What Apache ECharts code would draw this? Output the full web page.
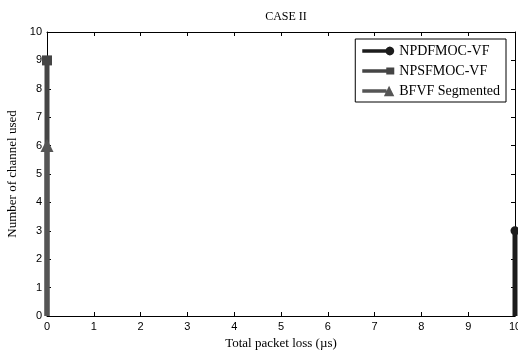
<!DOCTYPE html>
<html>
<head>
<meta charset="utf-8">
<script src="https://cdn.jsdelivr.net/npm/echarts@6/dist/echarts.min.js"></script>
<style>
  html, body { margin: 0; padding: 0; background: #fff; }
  #chart { width: 518px; height: 358px; }
</style>
</head>
<body>
<div id="chart"></div>
<script>
var seriesNames = ['NPDFMOC-VF', 'NPSFMOC-VF', 'BFVF Segmented']
var npdfX = [10, 10]
var npdfY = [0, 3]
var npsfX = [0, 0]
var npsfY = [0, 9]
var bfvfX = [0, 0]
var bfvfY = [0, 6]

var colors = ['#1c1c1c', '#454545', '#555555']
var symbols = ['circle', 'rect', 'triangle']
// legend samples: thick line with the marker at its right end
var legendIcons = [
  'path://M0,4 H27 V8 H0 Z M36,6 L35.3,8.5 L33.5,10.3 L31,11 L28.5,10.3 L26.7,8.5 L26,6 L26.7,3.5 L28.5,1.7 L31,1 L33.5,1.7 L35.3,3.5 Z',
  'path://M0,4 H28 V8 H0 Z M27,2 H36 V10 H27 Z',
  'path://M0,4 H28 V8 H0 Z M25,12 L31,0 L37,12 Z'
]

// marker only at the top end of each vertical segment
function pairs (xs, ys, symbol) {
  var out = []
  for (let i = 0; i < xs.length; i++) {
    let item = { value: [xs[i], ys[i]] }
    if (i < xs.length - 1) item.symbol = 'none'
    else item.symbol = symbol
    out.push(item)
  }
  return out
}

var chart = echarts.init(document.getElementById('chart'))
var serif = 'Liberation Serif, Times New Roman, serif'
var sans = 'Liberation Sans, Arial, sans-serif'

function boxAxis (pos) {
  return {
    type: 'value',
    position: pos,
    min: 0,
    max: 10,
    interval: 1,
    axisLine: { show: true, onZero: false, lineStyle: { color: '#000', width: 1 } },
    axisTick: { show: true, inside: true, length: 4, lineStyle: { color: '#000' } },
    axisLabel: { show: false },
    splitLine: { show: false }
  }
}

var option = {
  animation: false,
  title: {
    text: 'CASE II',
    left: 281,
    textAlign: 'center',
    top: 6,
    textStyle: { fontFamily: serif, fontSize: 12, fontWeight: 'normal', color: '#000' }
  },
  legend: {
    right: 12,
    top: 39,
    orient: 'vertical',
    itemGap: 6,
    itemWidth: 32,
    itemHeight: 11,
    padding: [5, 6, 4, 7],
    borderColor: '#000',
    borderWidth: 1,
    borderRadius: 0,
    backgroundColor: '#fff',
    textStyle: { fontFamily: serif, fontSize: 14, color: '#000' },
    data: seriesNames.map(function (n, i) {
      return { name: n, icon: legendIcons[i], itemStyle: { color: colors[i] } }
    })
  },
  grid: { left: 47, right: 3, top: 32, bottom: 42, show: false, outerBoundsMode: 'none' },
  xAxis: [{
    type: 'value',
    min: 0,
    max: 10,
    interval: 1,
    name: 'Total packet loss (\u00b5s)',
    nameLocation: 'middle',
    nameGap: 20,
    nameTextStyle: { fontFamily: serif, fontSize: 13, color: '#000' },
    axisLine: { onZero: false, lineStyle: { color: '#000', width: 1 } },
    axisTick: { inside: true, length: 4, lineStyle: { color: '#000' } },
    axisLabel: { fontFamily: sans, fontSize: 11, color: '#000', margin: 5 },
    splitLine: { show: false }
  }, boxAxis('top')],
  yAxis: [{
    type: 'value',
    min: 0,
    max: 10,
    interval: 1,
    name: 'Number of channel used',
    nameLocation: 'middle',
    nameGap: 28,
    nameTextStyle: { fontFamily: serif, fontSize: 13, color: '#000' },
    axisLine: { show: true, onZero: false, lineStyle: { color: '#000', width: 1 } },
    axisTick: { show: true, inside: true, length: 4, lineStyle: { color: '#000' } },
    axisLabel: { fontFamily: sans, fontSize: 11, color: '#000', margin: 5 },
    splitLine: { show: false }
  }, boxAxis('right')],
  series: [{
    name: seriesNames[0],
    type: 'line',
    clip: false,
    symbol: symbols[0],
    symbolSize: 9,
    color: colors[0],
    lineStyle: { width: 5, color: colors[0] },
    itemStyle: { color: colors[0] },
    data: pairs(npdfX, npdfY, symbols[0]),
    z: 3
  }, {
    name: seriesNames[1],
    type: 'line',
    clip: false,
    symbol: symbols[1],
    symbolSize: 10,
    color: colors[1],
    lineStyle: { width: 5, color: colors[1] },
    itemStyle: { color: colors[1] },
    data: pairs(npsfX, npsfY, symbols[1]),
    z: 2
  }, {
    name: seriesNames[2],
    type: 'line',
    clip: false,
    symbol: symbols[2],
    symbolSize: 13,
    color: colors[2],
    lineStyle: { width: 5, color: colors[2] },
    itemStyle: { color: colors[2] },
    data: pairs(bfvfX, bfvfY, symbols[2]),
    z: 4
  }]
}
chart.setOption(option)
</script>
</body>
</html>
